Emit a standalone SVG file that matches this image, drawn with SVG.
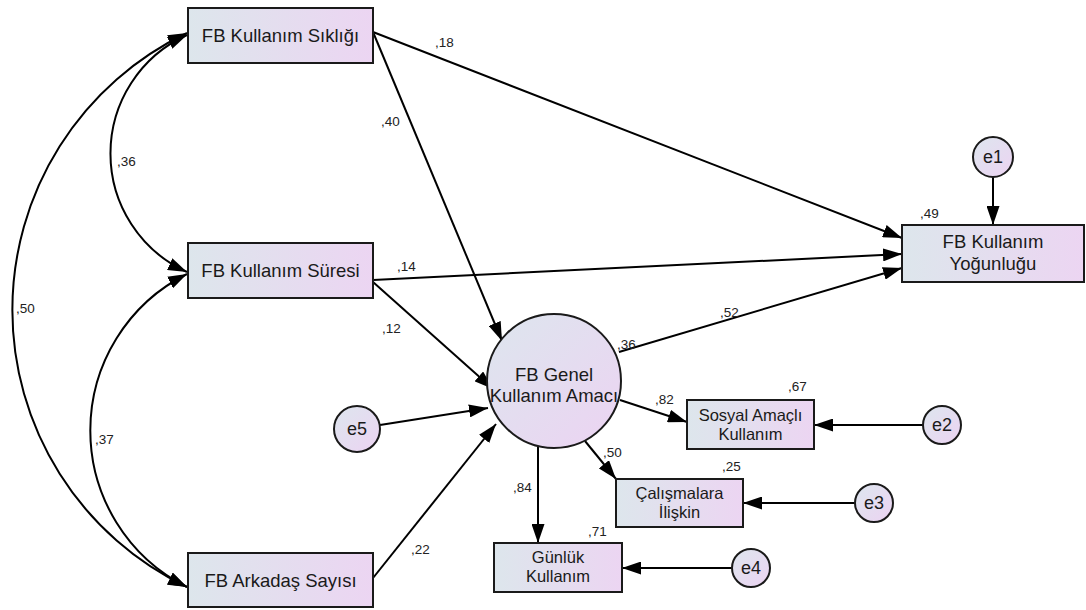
<svg xmlns="http://www.w3.org/2000/svg" width="1086" height="610" viewBox="0 0 1086 610">
<defs>
<linearGradient id="gb" x1="0" y1="0" x2="1" y2="0">
<stop offset="0" stop-color="#dde6ec"/>
<stop offset="1" stop-color="#ecd5f2"/>
</linearGradient>
<linearGradient id="gc" x1="0" y1="0" x2="1" y2="1">
<stop offset="0" stop-color="#dde6ee"/>
<stop offset="1" stop-color="#ecd3f2"/>
</linearGradient>
<marker id="ah" markerWidth="19" markerHeight="13" refX="19" refY="6.5" orient="auto-start-reverse" markerUnits="userSpaceOnUse">
<path d="M0,0 L19,6.5 L0,13 z" fill="#000"/>
</marker>
<style>
.box{fill:url(#gb);stroke:#1a1a1a;stroke-width:2}
.circ{fill:url(#gc);stroke:#1a1a1a;stroke-width:2}
.t{font-family:"Liberation Sans",Arial,sans-serif;fill:#1a1a1a;text-anchor:middle}
.big{font-size:18.5px}
.mid{font-size:16.5px}
.e{font-size:18px}
.n{font-family:"Liberation Sans",Arial,sans-serif;font-size:13.5px;fill:#222}
.c{fill:none;stroke:#000;stroke-width:2}
.a{marker-end:url(#ah)}
.aa{marker-start:url(#ah);marker-end:url(#ah)}
</style>
</defs>
<rect width="1086" height="610" fill="#fff"/>
<g id="connectors">
<path class="c aa" d="M187,35 A130,130 0 0,0 187,272"/>
<path class="c aa" d="M187,274 A175,175 0 0,0 187,587"/>
<path class="c aa" d="M187,33 A307,307 0 0,0 187,587"/>
<path class="c a" d="M373,32 L902,238"/>
<path class="c a" d="M373,32 L502,341"/>
<path class="c a" d="M373,280 L902,254"/>
<path class="c a" d="M373,282 L493,389"/>
<path class="c a" d="M380,425 L488,408"/>
<path class="c a" d="M373,578 L496,424"/>
<path class="c a" d="M619,352 L902,268"/>
<path class="c a" d="M620,400 L687,422"/>
<path class="c a" d="M585,441 L616,479"/>
<path class="c a" d="M538,447 L538,543"/>
<path class="c a" d="M993,177 L993,225"/>
<path class="c a" d="M923,425 L814,425"/>
<path class="c a" d="M855,503 L743,503"/>
<path class="c a" d="M732,568 L622,568"/>
</g>
<g id="labels">
<text class="n" x="435" y="47">,18</text>
<text class="n" x="381" y="126">,40</text>
<text class="n" x="117" y="166">,36</text>
<text class="n" x="16" y="313">,50</text>
<text class="n" x="95" y="444">,37</text>
<text class="n" x="397" y="271">,14</text>
<text class="n" x="382" y="333">,12</text>
<text class="n" x="411" y="554">,22</text>
<text class="n" x="617" y="349">,36</text>
<text class="n" x="720" y="317">,52</text>
<text class="n" x="655" y="404">,82</text>
<text class="n" x="788" y="391">,67</text>
<text class="n" x="603" y="457">,50</text>
<text class="n" x="722" y="471">,25</text>
<text class="n" x="513" y="492">,84</text>
<text class="n" x="588" y="536">,71</text>
<text class="n" x="920" y="218">,49</text>
</g>
<g id="n_siklik">
<rect class="box" x="188" y="8" width="185" height="55"/>
<text class="t big" x="280.5" y="42">FB Kullanım Sıklığı</text>
</g>
<g id="n_sure">
<rect class="box" x="188" y="243" width="185" height="55"/>
<text class="t big" x="280.5" y="277">FB Kullanım Süresi</text>
</g>
<g id="n_arkadas">
<rect class="box" x="188" y="553" width="185" height="54"/>
<text class="t big" x="280.5" y="587">FB Arkadaş Sayısı</text>
</g>
<g id="n_yogunluk">
<rect class="box" x="902" y="225" width="182" height="57"/>
<text class="t big" x="993" y="248">FB Kullanım</text>
<text class="t big" x="993" y="270">Yoğunluğu</text>
</g>
<g id="n_genel">
<circle class="circ" cx="554" cy="381" r="67"/>
<text class="t big" x="554" y="381">FB Genel</text>
<text class="t big" x="554" y="402">Kullanım Amacı</text>
</g>
<g id="n_sosyal">
<rect class="box" x="687" y="400" width="127" height="49"/>
<text class="t mid" x="750.5" y="421">Sosyal Amaçlı</text>
<text class="t mid" x="750.5" y="440">Kullanım</text>
</g>
<g id="n_calisma">
<rect class="box" x="616" y="479" width="127" height="48"/>
<text class="t mid" x="679.5" y="499">Çalışmalara</text>
<text class="t mid" x="679.5" y="518">İlişkin</text>
</g>
<g id="n_gunluk">
<rect class="box" x="494" y="543" width="128" height="49"/>
<text class="t mid" x="558" y="563">Günlük</text>
<text class="t mid" x="558" y="582">Kullanım</text>
</g>
<g id="n_e1">
<circle class="circ" cx="993" cy="157" r="20"/>
<text class="t e" x="993" y="163">e1</text>
</g>
<g id="n_e2">
<circle class="circ" cx="942" cy="425" r="19"/>
<text class="t e" x="942" y="431">e2</text>
</g>
<g id="n_e3">
<circle class="circ" cx="874" cy="503" r="19"/>
<text class="t e" x="874" y="509">e3</text>
</g>
<g id="n_e4">
<circle class="circ" cx="751" cy="568" r="19"/>
<text class="t e" x="751" y="574">e4</text>
</g>
<g id="n_e5">
<circle class="circ" cx="357" cy="429" r="23"/>
<text class="t e" x="357" y="435">e5</text>
</g>
</svg>
